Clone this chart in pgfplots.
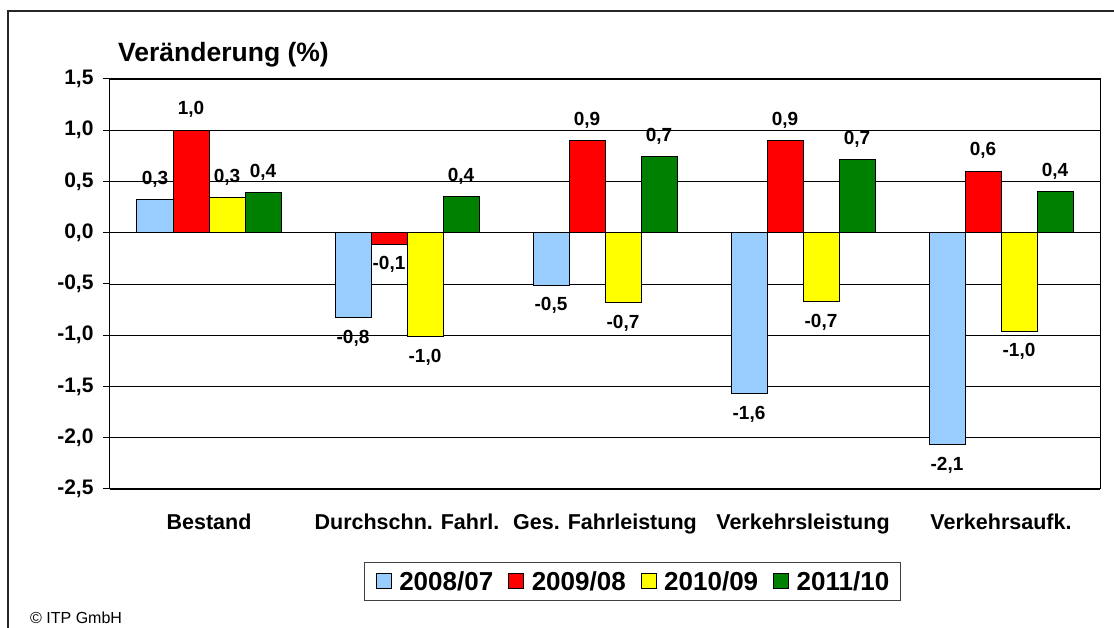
\documentclass[border=0pt]{standalone}
\usepackage{pgfplots}
\pgfplotsset{compat=1.18}
\usepackage{fontspec}
\setmainfont{Liberation Sans}
\definecolor{cblue}{RGB}{153,204,255}
\definecolor{cred}{RGB}{255,0,0}
\definecolor{cyellow}{RGB}{255,255,0}
\definecolor{cgreen}{RGB}{0,128,0}
\pgfplotstableread{
x y label
0 0.32 0,3
1 -0.83 -0,8
2 -0.51 -0,5
3 -1.57 -1,6
4 -2.07 -2,1
}\tA
\pgfplotstableread{
x y label
0 1.00 1,0
1 -0.11 -0,1
2 0.90 0,9
3 0.90 0,9
4 0.60 0,6
}\tB
\pgfplotstableread{
x y label
0 0.34 0,3
1 -1.01 -1,0
2 -0.68 -0,7
3 -0.67 -0,7
4 -0.96 -1,0
}\tC
\pgfplotstableread{
x y label
0 0.39 0,4
1 0.35 0,4
2 0.74 0,7
3 0.71 0,7
4 0.40 0,4
}\tD
\begin{document}
\begin{tikzpicture}[x=1pt,y=1pt]
\path[use as bounding box] (0,0) rectangle (1114,628);
\draw[line width=1.2pt, black!85] (8,-10) -- (8,617) -- (1130,617);
\node[anchor=base west, font=\fontsize{26.5}{26.5}\selectfont\bfseries, inner sep=0pt] at (118,566) {Veränderung (\%)};
\node[anchor=base west, font=\fontsize{16}{16}\selectfont, inner sep=0pt] at (30,4) {© ITP GmbH};
\begin{axis}[
  at={(110pt,139pt)}, anchor=south west,
  scale only axis, width=990pt, height=410pt,
  xmin=-0.5, xmax=4.5, ymin=-2.5, ymax=1.5,
  ybar=0pt, bar width=36pt,
  xtick={0,1,2,3,4},
  xticklabels={Bestand, Durchschn. Fahrl., Ges. Fahrleistung, Verkehrsleistung, Verkehrsaufk.},
  x tick style={draw=none},
  xticklabel style={font=\fontsize{21.5}{21.5}\selectfont\bfseries, anchor=base, yshift=-34pt},
  ytick={-2.5,-2,-1.5,-1,-0.5,0,0.5,1,1.5},
  ytick pos=left, tick align=outside, major tick length=7pt,
  y tick style={black, line width=1pt},
  yticklabel style={font=\fontsize{21}{21}\selectfont\bfseries, anchor=east, xshift=-6pt,
    /pgf/number format/.cd, fixed, fixed zerofill, precision=1, use comma, assume math mode=true},
  ymajorgrids, grid style={black, line width=0.8pt},
  axis line style={black, line width=1pt},
  nodes near coords, point meta=explicit symbolic,
  visualization depends on={rawy \as \ry},
  every node near coord/.append style={font=\fontsize{19}{19}\selectfont\bfseries, black, inner ysep=12pt,
    anchor=\ifdim\ry pt<0pt north\else south\fi},
  legend columns=4,
  legend style={at={(0.5278,-0.2256)}, anchor=center, draw=black!75, line width=1pt,
    font=\fontsize{26}{26}\selectfont\bfseries,
    /tikz/every even column/.append style={column sep=15pt},
    nodes={inner xsep=0pt, inner ysep=2pt},
    inner xsep=11pt, inner ysep=7pt},
  legend image code/.code={\draw[#1, draw=black, line width=1pt] (0pt,-7.5pt) rectangle (15pt,7.5pt); \path[draw=none, fill=none] (0pt,0pt) -- (23pt,0pt);},
]
\addplot[fill=cblue, draw=black, line width=1pt] table[x=x, y=y, meta=label] {\tA};
\addplot[fill=cred, draw=black, line width=1pt] table[x=x, y=y, meta=label] {\tB};
\addplot[fill=cyellow, draw=black, line width=1pt] table[x=x, y=y, meta=label] {\tC};
\addplot[fill=cgreen, draw=black, line width=1pt] table[x=x, y=y, meta=label] {\tD};
\legend{2008/07, 2009/08, 2010/09, 2011/10}
\end{axis}
\end{tikzpicture}
\end{document}
